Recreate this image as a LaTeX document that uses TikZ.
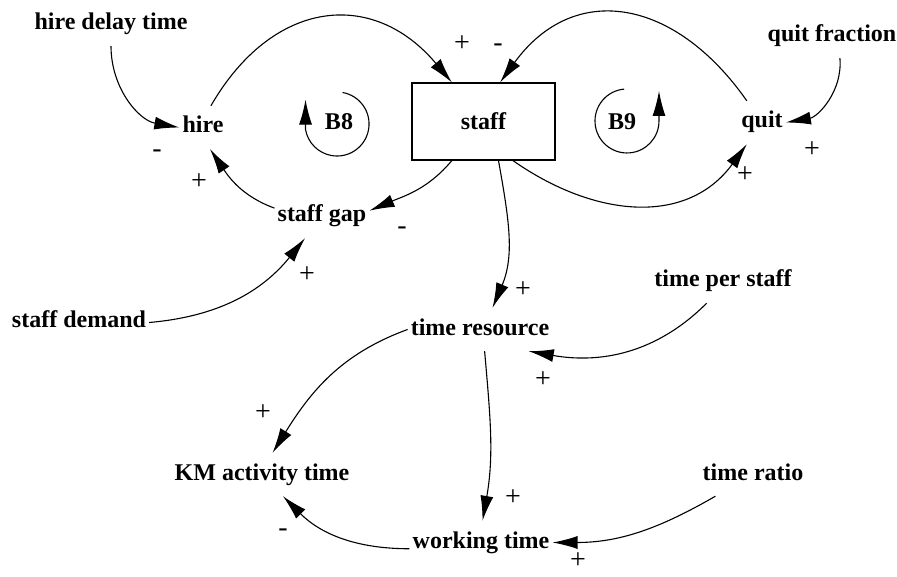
\documentclass[tikz,border=0pt]{standalone}
\usepackage{fontspec}
\setmainfont{Liberation Serif}
\usetikzlibrary{arrows.meta}
\newcommand{\cldfont}{\fontsize{24}{28}\selectfont\bfseries}
\newcommand{\cldpolfont}{\fontsize{28}{30}\selectfont\mdseries}
\newcommand{\cldarrow}{Latex[length=25pt,width=13pt]}
\newcommand{\cldloopr}{32pt}

\begin{document}
\begin{tikzpicture}[x=1pt, y=-1pt, anchor=base, font=\cldfont,
    var/.style={inner xsep=3pt, inner ysep=11pt, text height=16pt, text depth=5pt},
    pol/.style={anchor=center, inner sep=0pt, font=\cldpolfont},
    lnk/.style={-{\cldarrow}, line width=1.1pt}]
  \useasboundingbox (0, 0) rectangle (897, 577);

  \node[var] (hiredelay) at (111, 30) {hire delay time};
  \node[var] (hire) at (203, 133) {hire};
  \node[draw, line width=1.2pt, anchor=center, inner sep=0pt,
    minimum width=143pt, minimum height=77pt] (staff) at (483.5, 121.5) {staff};
  \node[var] (quit) at (762, 128) {quit};
  \node[var] (quitfrac) at (832, 42) {quit fraction};
  \node[var] (staffgap) at (322, 222) {staff gap};
  \node[var] (staffdemand) at (79, 328) {staff demand};
  \node[var] (timeres) at (480, 335) {time resource};
  \node[var] (timeper) at (723, 287) {time per staff};
  \node[var] (kmtime) at (262, 480) {KM activity time};
  \node[var] (timeratio) at (753, 480) {time ratio};
  \node[var] (worktime) at (481, 548) {working time};

  \node (loopbviii) at (339, 130) {B8};
  \node (loopbix) at (622, 130) {B9};
  \draw[lnk] (342.6, 92.5) arc[start angle=80, end angle=-170, radius=\cldloopr]
    -- ++(0, -30);
  \draw[lnk] (624.2, 89.1) arc[start angle=95, end angle=360, radius=\cldloopr]
    -- ++(0, -30);

  \draw[lnk] (hiredelay.south) to[out=-90, in=170] (hire.west);
  \draw[lnk] (hire.70) to[out=60, in=130, looseness=1.3] (staff.129);
  \draw[lnk] (quit.125) to[out=125, in=54, looseness=1.3] (staff.67);
  \draw[lnk] (staffgap.170) to[out=160, in=-56] (hire.-72);
  \draw[lnk] (staff.231) to[out=-130, in=23] (staffgap.7);
  \draw[lnk] (staff.-53) to[out=-35, in=-126, looseness=1.1] (quit.-125);
  \draw[lnk] (staffdemand.east) to[out=5, in=-129] (staffgap.-128);
  \draw[lnk] (quitfrac.-70) to[out=-85, in=10] (quit.east);
  \draw[lnk] (staff.-69) to[out=-80, in=67] (timeres.60);
  \draw[lnk] (timeper.-127) to[out=-135, in=-10] (timeres.-24);
  \draw[lnk] (timeres.west) to[out=200, in=58] (kmtime.64);
  \draw[lnk] (timeres.-78) to[out=-85, in=80] (worktime.86);
  \draw[lnk] (timeratio.-150) to[out=-150, in=0] (worktime.east);
  \draw[lnk] (worktime.185) to[out=180, in=-45] (kmtime.-46);

  \node[pol] (pola) at (157, 154) {-};
  \node[pol] (polb) at (199, 182) {+};
  \node[pol] (polc) at (462, 44) {+};
  \node[pol] (pold) at (498, 48) {-};
  \node[pol] (pole) at (402, 231) {-};
  \node[pol] (polf) at (307, 275) {+};
  \node[pol] (polg) at (745, 175) {+};
  \node[pol] (polh) at (812, 150) {+};
  \node[pol] (poli) at (523, 290) {+};
  \node[pol] (polj) at (543, 380) {+};
  \node[pol] (polk) at (263, 413) {+};
  \node[pol] (poll) at (283, 533) {-};
  \node[pol] (polm) at (513, 498) {+};
  \node[pol] (poln) at (578, 561) {+};
\end{tikzpicture}
\end{document}
